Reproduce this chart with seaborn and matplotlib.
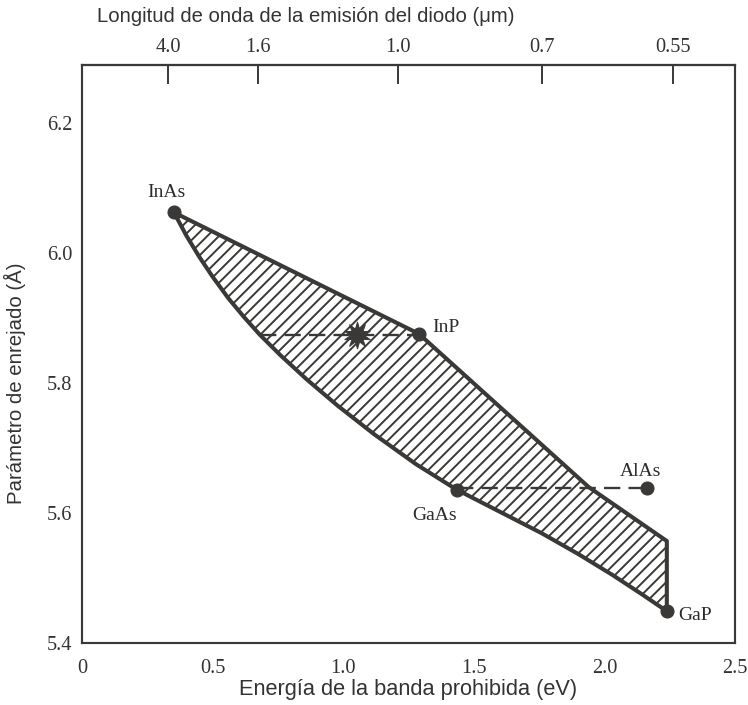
import matplotlib
matplotlib.use('Agg')
import matplotlib.pyplot as plt
import seaborn as sns
import pandas as pd

# compounds: band gap (eV) and lattice constant (angstrom)
compounds = ['InAs', 'InP', 'GaAs', 'AlAs', 'GaP']
gap = [0.352, 1.29, 1.435, 2.162, 2.239]
lattice = [6.063, 5.876, 5.636, 5.639, 5.449]

# upper edge of the hatched region: InAs -> InP -> corner above GaP
upper_gap = [0.352, 1.29, 1.94, 2.239]
upper_lat = [6.063, 5.876, 5.640, 5.557]
# lower edge: InAs -> GaAs -> GaP (curved)
lower_gap = [0.352, 0.40, 0.45, 0.50, 0.56, 0.62, 0.68, 0.76, 0.86, 0.98,
             1.12, 1.28, 1.435, 1.60, 1.76, 1.90, 2.03, 2.14, 2.239]
lower_lat = [6.063, 6.027, 5.994, 5.964, 5.931, 5.902, 5.875, 5.843, 5.806,
             5.765, 5.721, 5.675, 5.636, 5.602, 5.569, 5.537, 5.505, 5.476,
             5.449]

# dashed tie lines and the star
inp_line_gap = [0.68, 1.29]
inp_line_lat = [5.875, 5.875]
star_gap = [1.052]
star_lat = [5.875]
gaas_line_gap = [1.435, 2.162]
gaas_line_lat = [5.638, 5.638]

x_ticks = [0, 0.5, 1.0, 1.5, 2.0, 2.5]
x_labels = ['0', '0.5', '1.0', '1.5', '2.0', '2.5']
y_ticks = [5.4, 5.6, 5.8, 6.0, 6.2]
top_tick_pos = [0.33, 0.674, 1.21, 1.76, 2.262]
top_tick_labels = ['4.0', '1.6', '1.0', '0.7', '0.55']

# label offsets in points (dx, dy, ha, va)
label_offsets = {
    'InAs': (-4, 6, 'center', 'bottom'),
    'InP': (7, 3.5, 'left', 'center'),
    'GaAs': (0, -9, 'right', 'top'),
    'AlAs': (-3, 4, 'center', 'bottom'),
    'GaP': (6, -2, 'left', 'center'),
}

DPI = 140
dark = '#3b3937'
sns.set_style('white')
plt.rcParams['hatch.linewidth'] = 1.0
plt.rcParams['hatch.color'] = dark
serif = ['Liberation Serif', 'DejaVu Serif']
sans = ['Liberation Sans', 'DejaVu Sans']

fig = plt.figure(figsize=(748 / DPI, 705 / DPI), dpi=DPI)
ax = fig.add_axes([82 / 748, (705 - 643) / 705, (735 - 82) / 748, (643 - 65) / 705])

# hatched region
poly_x = upper_gap + lower_gap[::-1]
poly_y = upper_lat + lower_lat[::-1]
ax.fill(poly_x, poly_y, facecolor='white', edgecolor=dark, hatch='////',
        linewidth=0, zorder=1)
outline = pd.DataFrame({'x': poly_x + [poly_x[0]], 'y': poly_y + [poly_y[0]]})
sns.lineplot(data=outline, x='x', y='y', ax=ax, color=dark, lw=2.1, sort=False,
             estimator=None, solid_joinstyle='round', zorder=3)

# dashed tie lines
for lx, ly in [(inp_line_gap, inp_line_lat), (gaas_line_gap, gaas_line_lat)]:
    sns.lineplot(x=lx, y=ly, ax=ax, color=dark, lw=1.2,
                 linestyle=(0, (7, 3.5)), zorder=4, sort=False)

df = pd.DataFrame({'compound': compounds, 'gap': gap, 'lattice': lattice})
sns.scatterplot(data=df, x='gap', y='lattice', ax=ax, color=dark, s=45,
                edgecolor=dark, zorder=5)
sns.scatterplot(x=star_gap, y=star_lat, ax=ax, color=dark, marker=(10, 1, 0),
                s=190, edgecolor=dark, linewidth=0.5, zorder=5)

for name, gx, ly in zip(compounds, gap, lattice):
    dx, dy, ha, va = label_offsets[name]
    ax.annotate(name, (gx, ly), xytext=(dx, dy), textcoords='offset points',
                ha=ha, va=va, fontsize=10, family=serif, color='#2e2c2a')

ax.set_xlim(0, 2.5)
ax.set_ylim(5.4, 6.29)
ax.set_xticks(x_ticks)
ax.set_xticklabels(x_labels)
ax.set_yticks(y_ticks)
ax.set_yticklabels([f'{v:.1f}' for v in y_ticks])
ax.tick_params(axis='x', direction='in', length=10, width=1, color=dark,
               labelsize=10.5, pad=8, labelcolor='#333333')
ax.tick_params(axis='y', direction='in', length=10, width=1, color=dark,
               labelsize=10.5, pad=5, labelcolor='#333333')
for t in ax.get_xticklabels() + ax.get_yticklabels():
    t.set_family(serif)
ax.xaxis.get_major_ticks()[0].tick1line.set_visible(False)
ax.xaxis.get_major_ticks()[-1].tick1line.set_visible(False)
ax.yaxis.get_major_ticks()[0].tick1line.set_visible(False)

for s in ax.spines.values():
    s.set_color(dark)
    s.set_linewidth(1.1)

ax.set_xlabel('Energía de la banda prohibida (eV)', fontsize=11.2,
              family=sans, color='#333333', labelpad=1)
ax.set_ylabel('Parámetro de enrejado (Å)', fontsize=10.5, family=sans,
              color='#333333')
ax.yaxis.set_label_coords(-0.085, 0.45)

top = ax.secondary_xaxis('top')
top.set_xticks(top_tick_pos)
top.set_xticklabels(top_tick_labels)
top.tick_params(direction='in', length=10, width=1, color=dark, labelsize=10.5,
                pad=4, labelcolor='#333333')
for t in top.get_xticklabels():
    t.set_family(serif)
top.spines['top'].set_color(dark)
top.spines['top'].set_linewidth(1.1)
fig.text(97 / 748, 1 - 17 / 705, 'Longitud de onda de la emisión del diodo (μm)',
         fontsize=10.4, family=sans, color='#333333', ha='left', va='center')

fig.savefig('out.png', dpi=DPI, facecolor='white')
